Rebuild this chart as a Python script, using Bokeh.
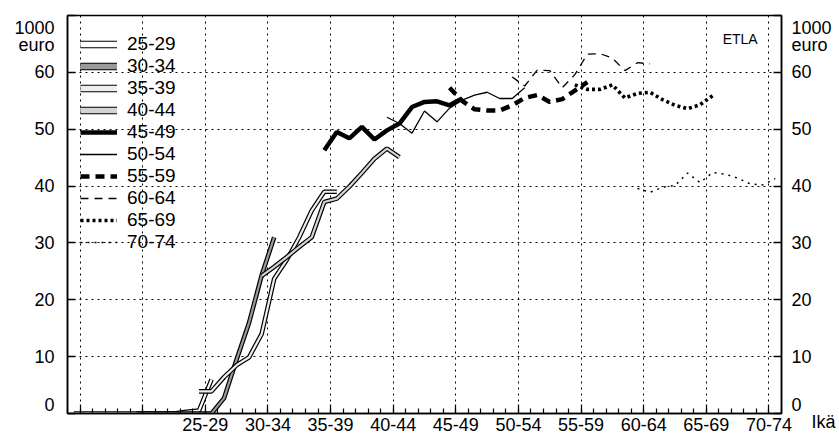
from bokeh.plotting import figure
from bokeh.models import (LinearAxis, FixedTicker, Range1d, Legend, LegendItem,
                          Label, ColumnDataSource)
from bokeh.embed import file_html
from bokeh.resources import INLINE

# ---------------- data ----------------
cohorts = ["25-29", "30-34", "35-39", "40-44", "45-49",
           "50-54", "55-59", "60-64", "65-69", "70-74"]
# age (years) of each cohort at the first observation; one point per year
start_age = [16.5, 21.5, 26.5, 31.5, 36.5, 41.5, 46.5, 51.5, 56.5, 61.5]

v25 = [0, 0, 0, 0, 0, 0, 0, 0, 0, 0.3, 0.5, 6.0]
v30 = [0, 0, 0, 0, 0, 0, 0, 2.7, 9.5, 16.0, 24.3, 31.0]
v35 = [3.9, 3.9, 6.4, 8.5, 9.9, 14.0, 23.7, 27.0, 31.0, 35.7, 39.0, 39.0]
v40 = [24.2, 25.8, 27.5, 29.3, 31.0, 37.2, 37.8, 39.9, 42.3, 44.8, 46.6, 45.1]
v45 = [46.3, 49.5, 48.4, 50.4, 48.2, 49.8, 51.0, 53.9, 54.8, 54.9, 54.2, 55.4]
v50 = [52.1, 51.0, 49.3, 53.2, 51.3, 53.7, 55.1, 56.0, 56.5, 55.4, 55.4, 57.3]
v55 = [57.3, 55.0, 53.5, 53.3, 53.3, 54.2, 55.5, 56.0, 54.8, 55.3, 56.8, 58.3]
v60 = [59.2, 57.6, 60.4, 60.3, 57.3, 59.6, 63.2, 63.3, 62.5, 60.3, 61.7, 61.5]
v65 = [57.8, 57.0, 57.0, 57.8, 55.5, 56.3, 56.5, 55.2, 54.2, 53.6, 54.3, 55.9]
v70 = [39.6, 38.9, 39.8, 40.1, 42.3, 40.6, 42.4, 42.1, 41.4, 40.4, 40.2, 41.3]
series = [v25, v30, v35, v40, v45, v50, v55, v60, v65, v70]

x_major_ticks = [17, 22, 27, 32, 37, 42, 47, 52, 57, 62, 67, 72]
x_tick_labels = ["", "", "25-29", "30-34", "35-39", "40-44", "45-49",
                 "50-54", "55-59", "60-64", "65-69", "70-74"]
x_minor_ticks = list(range(16, 74))
y_ticks = [0, 10, 20, 30, 40, 50, 60, 70]
y_tick_labels = ["0", "10", "20", "30", "40", "50", "60", "1000\neuro"]
x_title = "Ikä"
source_note = "ETLA"

FONT = "Liberation Sans"
NB = "\u00a0"

p = figure(width=839, height=438, output_backend="svg", toolbar_location=None,
           x_range=Range1d(16, 73), y_range=Range1d(0, 70),
           min_border_left=67, min_border_right=58, min_border_top=15,
           min_border_bottom=25)
p.background_fill_color = "white"
p.outline_line_color = "black"
p.outline_line_width = 1.5

# ---- x axis ----
p.xaxis.ticker = FixedTicker(ticks=x_major_ticks, minor_ticks=x_minor_ticks)
p.xaxis.major_label_overrides = dict(zip(x_major_ticks, x_tick_labels))
p.xaxis.major_label_text_font = FONT
p.xaxis.major_label_text_font_size = "18px"
p.xaxis.major_label_text_color = "black"
p.xaxis.major_label_standoff = 4
p.xaxis.major_tick_in = 9
p.xaxis.major_tick_out = 0
p.xaxis.minor_tick_in = 5
p.xaxis.minor_tick_out = 0
p.xaxis.axis_line_width = 1.5
p.xaxis.major_tick_line_width = 1.2
p.xaxis.minor_tick_line_width = 1.2

# ---- y axes (left and right) ----
yt = FixedTicker(ticks=y_ticks)
right = LinearAxis(ticker=yt)
p.add_layout(right, "right")
p.yaxis[0].ticker = yt

left_over = dict(zip(y_ticks, y_tick_labels))
left_over[0] = y_tick_labels[0] + "\n" + NB
left_over[70] = NB + "\n" + y_tick_labels[-1]
right_over = dict(left_over)
right_over[0] = y_tick_labels[0] + "\n" + NB * 4 + x_title

for ax, over in ((p.yaxis[0], left_over), (right, right_over)):
    ax.major_label_overrides = over
    ax.major_tick_in = 8
    ax.major_tick_out = 0
    ax.minor_tick_line_color = None
    ax.axis_line_width = 1.5
    ax.major_tick_line_width = 1.5
    ax.major_label_text_font = FONT
    ax.major_label_text_font_size = "18px"
    ax.major_label_text_line_height = 0.85
    ax.major_label_text_color = "black"
p.yaxis[0].major_label_standoff = 13
right.major_label_standoff = 10

# ---- grid ----
p.xgrid.ticker = FixedTicker(ticks=x_major_ticks)
p.ygrid.ticker = FixedTicker(ticks=y_ticks[1:-1])
for g in (p.xgrid, p.ygrid):
    g.grid_line_color = "black"
    g.grid_line_dash = "2 4"
    g.grid_line_width = 1

# ---- series ----
double_inner = ["white", "#9a9a9a", "#eeeeee", "#d4d4d4"]
single_style = [
    dict(line_width=4.5, line_dash="solid"),
    dict(line_width=1.3, line_dash="solid"),
    dict(line_width=4.5, line_dash="9 6"),
    dict(line_width=1.3, line_dash="8 6"),
    dict(line_width=3.6, line_dash="3 3"),
    dict(line_width=1.5, line_dash="2 5"),
]

nan = float("nan")
items = []
for i, (name, a0, vals) in enumerate(zip(cohorts, start_age, series)):
    ages = [a0 + k for k in range(len(vals))]
    src = ColumnDataSource(dict(x=ages, y=vals))
    if i < 4:
        p.line("x", "y", source=src, line_color="black", line_width=4.6)
        p.line("x", "y", source=src, line_color=double_inner[i], line_width=2.2)
        # legend-only glyphs (box look), no visible data
        o = p.line(x=[nan], y=[nan], line_color="black", line_width=7.5)
        n = p.line(x=[nan], y=[nan], line_color=double_inner[i], line_width=5.3)
        items.append(LegendItem(label=name, renderers=[o, n]))
    else:
        r = p.line("x", "y", source=src, line_color="black",
                   **single_style[i - 4])
        items.append(LegendItem(label=name, renderers=[r]))

legend = Legend(items=items, location=(13, 160), padding=0, margin=0,
                spacing=0, glyph_width=37, glyph_height=20, label_height=20,
                label_standoff=10, border_line_color=None,
                background_fill_alpha=0, label_text_color="black",
                label_text_font=FONT, label_text_font_size="19px")
p.add_layout(legend, "center")

p.add_layout(Label(x=71.1, y=65.8, text=source_note, text_align="right",
                   text_baseline="alphabetic", text_font=FONT,
                   text_font_size="14px", text_color="black"))

open("out.html", "w").write(file_html(p, INLINE))
